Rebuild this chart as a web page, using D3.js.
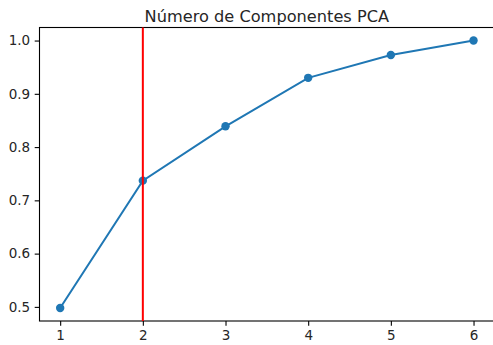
<!DOCTYPE html>
<html>
<head>
<meta charset="utf-8">
<script src="https://cdn.jsdelivr.net/npm/d3@7"></script>
<style>
  html, body { margin: 0; padding: 0; background: #fff; }
  svg { display: block; }
  text { font-family: "DejaVu Sans", sans-serif; fill: #262626; }
</style>
</head>
<body>
<div id="chart"></div>
<script>
// Cumulative explained variance by number of PCA components
const components = [1, 2, 3, 4, 5, 6];
const cumulativeVariance = [0.498, 0.737, 0.839, 0.930, 0.973, 1.0];
const chosenComponents = 2;
const xTicks = [1, 2, 3, 4, 5, 6];
const yTicks = [0.5, 0.6, 0.7, 0.8, 0.9, 1.0];
const title = "Número de Componentes PCA";

const width = 493, height = 345;
const blue = "#1f77b4";

const svg = d3.select("#chart").append("svg")
  .attr("width", width).attr("height", height);

// axis limits with 5% padding around the data
const xDom = [0.75, 6.25];
const yDom = [0.4735, 1.0245];
const x = d3.scaleLinear().domain(xDom).range([39.5, 494.2]);
const y = d3.scaleLinear().domain(yDom).range([321, 27.5]);

const fontSize = 13.5;

// axes frame
const frame = svg.append("g");
frame.append("rect")
  .attr("x", x(xDom[0])).attr("y", y(yDom[1]))
  .attr("width", x(xDom[1]) - x(xDom[0]))
  .attr("height", y(yDom[0]) - y(yDom[1]))
  .attr("fill", "none").attr("stroke", "#000").attr("stroke-width", 1.1);

// bottom axis
const xAxis = d3.axisBottom(x).tickValues(xTicks).tickFormat(d3.format("d"))
  .tickSize(4.8).tickPadding(4.5);
const gx = svg.append("g").attr("transform", `translate(0,${y(yDom[0])})`).call(xAxis);
gx.select(".domain").remove();
gx.selectAll("line").attr("stroke", "#000").attr("stroke-width", 1.1);
gx.selectAll("text").style("font-size", fontSize + "px")
  .style("font-family", "'DejaVu Sans', sans-serif").attr("fill", "#262626");

// left axis
const yAxis = d3.axisLeft(y).tickValues(yTicks).tickFormat(d3.format(".1f"))
  .tickSize(4.8).tickPadding(4.5);
const gy = svg.append("g").attr("transform", `translate(${x(xDom[0])},0)`).call(yAxis);
gy.select(".domain").remove();
gy.selectAll("line").attr("stroke", "#000").attr("stroke-width", 1.1);
gy.selectAll("text").style("font-size", fontSize + "px")
  .style("font-family", "'DejaVu Sans', sans-serif").attr("fill", "#262626");

// title
svg.append("text")
  .attr("x", (x(xDom[0]) + x(xDom[1])) / 2).attr("y", 21.5)
  .attr("text-anchor", "middle")
  .style("font-size", "16.2px")
  .text(title);

// variance curve
const pts = components.map((c, i) => [c, cumulativeVariance[i]]);
svg.append("path")
  .datum(pts)
  .attr("d", d3.line().x(d => x(d[0])).y(d => y(d[1])))
  .attr("fill", "none").attr("stroke", blue).attr("stroke-width", 2);

svg.append("g").selectAll("circle").data(pts).join("circle")
  .attr("cx", d => x(d[0])).attr("cy", d => y(d[1]))
  .attr("r", 4.2).attr("fill", blue);

// selected number of components
svg.append("line")
  .attr("x1", x(chosenComponents)).attr("x2", x(chosenComponents))
  .attr("y1", y(yDom[1])).attr("y2", y(yDom[0]))
  .attr("stroke", "#ff0000").attr("stroke-width", 2);
</script>
</body>
</html>
